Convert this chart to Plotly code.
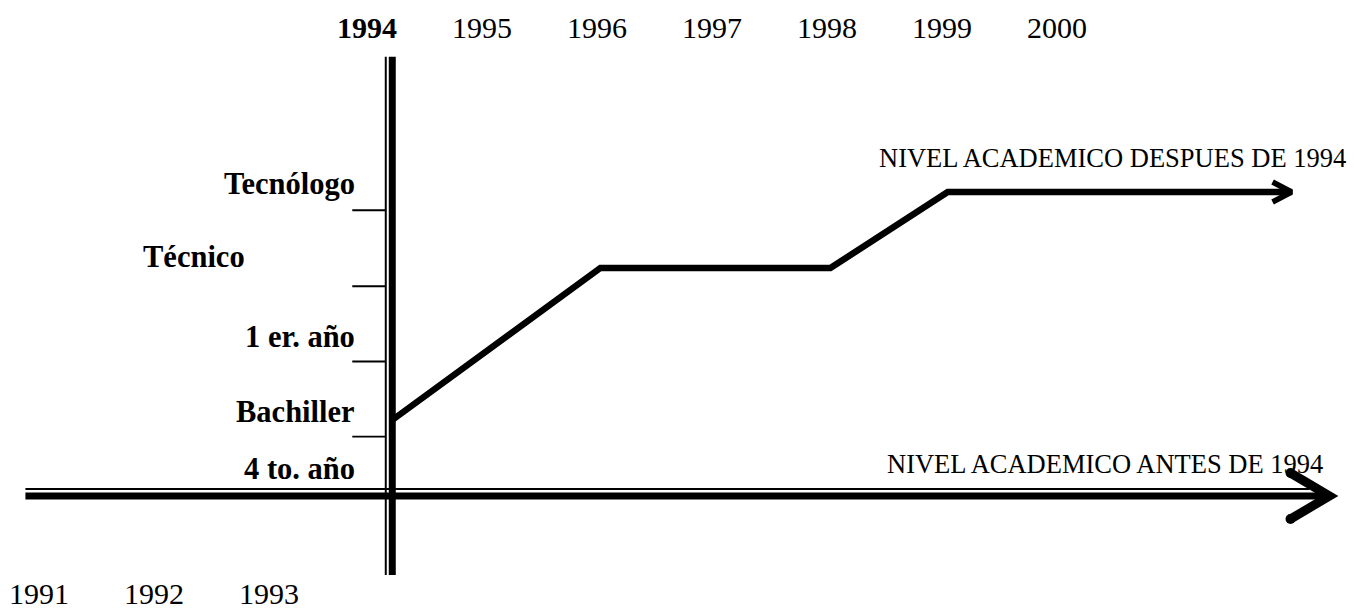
import plotly.graph_objects as go

# ---- data ----
top_years = [1994, 1995, 1996, 1997, 1998, 1999, 2000]
bottom_years = [1991, 1992, 1993]
level_names = ["4 to. año", "Bachiller", "1 er. año", "Técnico", "Tecnólogo"]
level_label_y = [0.36, 1.10, 2.09, 3.14, 4.10]
tick_levels = [0.78, 1.77, 2.76, 3.76]

after_x = [1994.22, 1996.03, 1998.03, 1999.05, 2002.04]
after_y = [1, 3, 3, 4, 4]
before_x = [1991.03, 2002.37]
before_y = [0, 0]

axis_year = 1994.22
axis_top, axis_bottom = 5.78, -1.04

# ---- scales ----
W, H = 1354, 610
XR = [1990.809, 1990.809 + W / 115]
YR = [(496 - H) / 76, 496 / 76]
PX = (XR[1] - XR[0]) / W
PY = (YR[1] - YR[0]) / H

FONT = "Liberation Serif"
fig = go.Figure()

# horizontal double axis (before 1994)
fig.add_trace(go.Scatter(x=before_x, y=before_y, mode="lines",
                         line=dict(color="black", width=7), hoverinfo="skip"))
fig.add_trace(go.Scatter(x=[before_x[0], before_x[1] - 20 * PX],
                         y=[before_y[0] + 7 * PY] * 2, mode="lines",
                         line=dict(color="black", width=1.8), hoverinfo="skip"))

# vertical double axis at 1994
fig.add_trace(go.Scatter(x=[axis_year, axis_year], y=[axis_top, axis_bottom], mode="lines",
                         line=dict(color="black", width=7), hoverinfo="skip"))
fig.add_trace(go.Scatter(x=[axis_year - 6.5 * PX] * 2, y=[axis_top, axis_bottom], mode="lines",
                         line=dict(color="black", width=2), hoverinfo="skip"))

# level tick marks
for t in tick_levels:
    fig.add_trace(go.Scatter(x=[axis_year - 40 * PX, axis_year - 6.5 * PX], y=[t, t],
                             mode="lines", line=dict(color="black", width=1.8),
                             hoverinfo="skip"))

# academic level after 1994
fig.add_trace(go.Scatter(x=after_x, y=after_y, mode="lines",
                         line=dict(color="black", width=6.5), hoverinfo="skip"))

# arrowheads (chevrons) built from end points
def chevron(x, y, dx, dy, w, round_ends=False):
    xs = [x + dx * PX, x, x + dx * PX]
    ys = [y + dy * PY, y, y - dy * PY]
    fig.add_trace(go.Scatter(x=xs, y=ys, mode="lines",
                             line=dict(color="black", width=w), hoverinfo="skip"))
    if round_ends:
        fig.add_trace(go.Scatter(x=[xs[0], xs[2]], y=[ys[0], ys[2]], mode="markers",
                                 marker=dict(color="black", size=w + 1), hoverinfo="skip"))

chevron(after_x[-1], after_y[-1], -19, 10, 5.5)
chevron(before_x[-1], before_y[-1], -39, 23, 9, round_ends=True)

ann = []
for yv in top_years:
    ann.append(dict(x=yv, y=6.16, text=f"<b>{yv}</b>" if yv == 1994 else str(yv),
                    showarrow=False, xanchor="center", yanchor="middle",
                    font=dict(family=FONT, size=30, color="black")))
for yv in bottom_years:
    ann.append(dict(x=yv + 0.15, y=-1.28, text=str(yv), showarrow=False,
                    xanchor="center", yanchor="middle",
                    font=dict(family=FONT, size=30, color="black")))
for name, ly in zip(level_names, level_label_y):
    if name == "Técnico":
        ann.append(dict(x=XR[0] + 141 * PX, y=ly, text=f"<b>{name}</b>", showarrow=False,
                        xanchor="left", yanchor="middle",
                        font=dict(family=FONT, size=30.5, color="black")))
    else:
        ann.append(dict(x=XR[0] + 357 * PX, y=ly, text=f"<b>{name}</b>", showarrow=False,
                        xanchor="right", yanchor="middle",
                        font=dict(family=FONT, size=30.5, color="black")))
ann.append(dict(x=XR[0] + 877 * PX, y=4.45, text="NIVEL ACADEMICO DESPUES DE 1994",
                showarrow=False, xanchor="left", yanchor="middle",
                font=dict(family=FONT, size=26.5, color="black")))
ann.append(dict(x=XR[0] + 885 * PX, y=0.42, text="NIVEL ACADEMICO ANTES DE 1994",
                showarrow=False, xanchor="left", yanchor="middle",
                font=dict(family=FONT, size=26.5, color="black")))

fig.update_layout(
    width=W, height=H, margin=dict(l=0, r=0, t=0, b=0),
    paper_bgcolor="white", plot_bgcolor="white", showlegend=False,
    xaxis=dict(range=XR, visible=False, fixedrange=True),
    yaxis=dict(range=YR, visible=False, fixedrange=True),
    annotations=ann,
)

fig.write_html("out.html", config={"displayModeBar": False},
               post_script="document.body.style.margin='0';")
